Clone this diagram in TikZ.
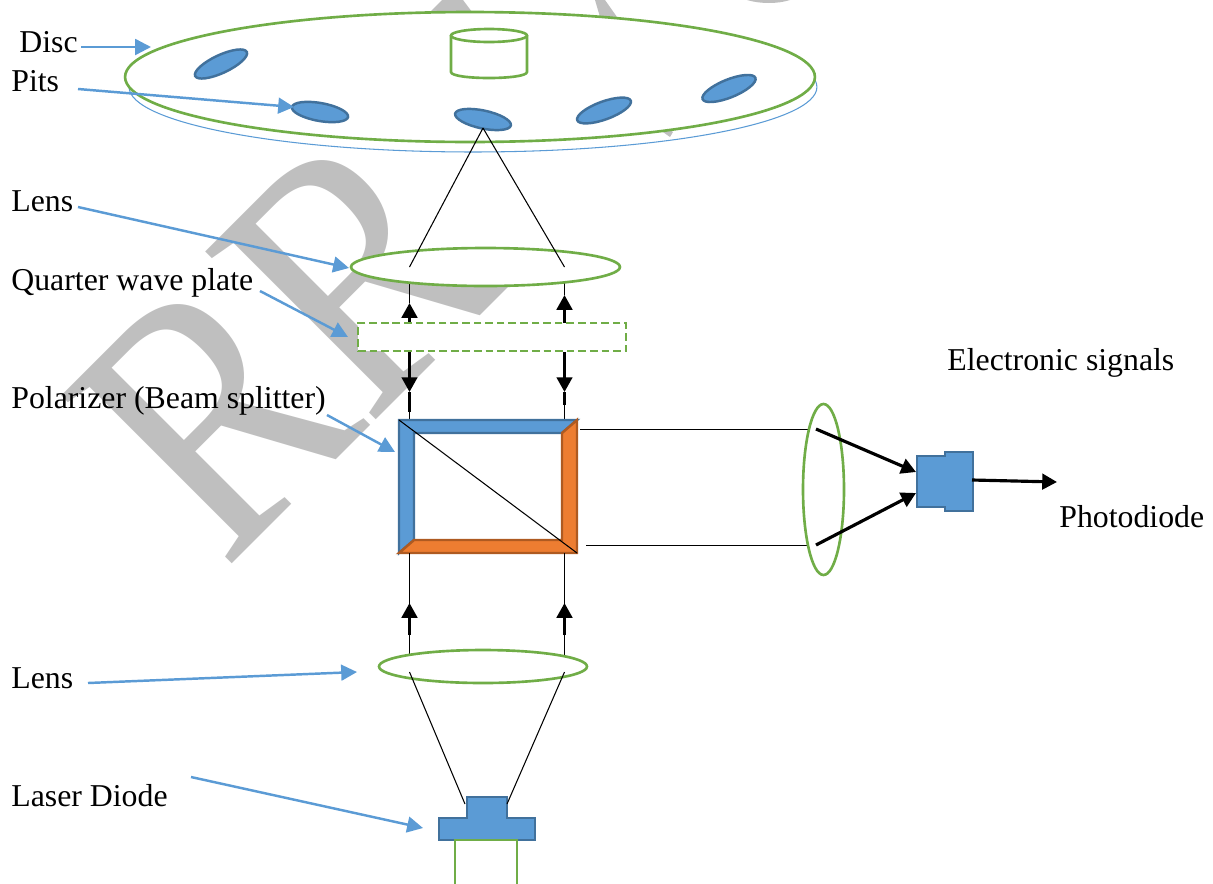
\documentclass[tikz,border=0pt]{standalone}
\usepackage{fontspec}
\usepackage{graphicx}
\setmainfont{Liberation Serif}
\usetikzlibrary{shapes.geometric,arrows.meta,positioning}

\definecolor{partgreen}{HTML}{70AD47}
\definecolor{partblue}{HTML}{5B9BD5}
\definecolor{edgeblue}{HTML}{41719C}
\definecolor{partorange}{HTML}{ED7D31}
\definecolor{edgeorange}{HTML}{AE5A21}
\definecolor{markgray}{HTML}{BFBFBF}

\tikzset{
	label text/.style={anchor=base west,inner sep=0pt,font=\fontsize{18.1}{20}\selectfont},
	mark text/.style={anchor=base west,inner sep=0pt,rotate=45,text=markgray,font=\fontsize{208}{220}\selectfont},
	lens/.style={shape=ellipse,draw=partgreen,fill=white,line width=1.5pt,inner sep=0pt},
	pit/.style={shape=ellipse,draw=edgeblue,fill=partblue,line width=1.4pt,inner sep=0pt,minimum width=1.14cm,minimum height=0.36cm},
	device/.style={draw=edgeblue,fill=partblue,line width=1.4pt},
	pointer/.style={partblue,line width=1.4pt,-{Triangle[length=9pt,width=9pt]}},
	beam/.style={black,line width=0.6pt},
	shaft/.style={black,line width=1.8pt},
	shaft tip/.style={shaft,-{Triangle[length=8.4pt,width=8.8pt]}}
}

\begin{document}
\begin{tikzpicture}[x=0.02cm,y=-0.02cm]
	\useasboundingbox (0,0) rectangle (1213,883);

	% watermark behind everything
	\node[mark text] (markA) at (224,572) {\scalebox{0.85}[1]{R}};
	\node[mark text] (markB) at (368,428) {\scalebox{0.85}[1]{R}};
	\fill[markgray] (442,0) -- (463,0) -- (472,12) -- (430,12) -- cycle;
	\fill[markgray] (595,0) -- (605,0) -- (617,17) -- (600,17) -- cycle;
	\fill[markgray] (747,0) .. controls (760,4) and (778,4) .. (790,0) -- cycle;
	\fill[markgray] (655,120) -- (673,132) -- (670,137) -- (660,130) -- cycle;

	% disc
	\node[shape=ellipse,draw=partblue,line width=0.6pt,inner sep=0pt,minimum width=13.76cm,minimum height=2.6cm] (discBack) at (473,87) {};
	\node[lens,minimum width=13.8cm,minimum height=2.6cm] (disc) at (470,77) {};
	\draw[draw=partgreen,line width=1.5pt] (451,36) -- (451,72) .. controls (451,80) and (527,80) .. (527,72) -- (527,36);
	\node[lens,minimum width=1.52cm,minimum height=0.26cm] (hub) at (489,35.5) {};
	\node[pit,rotate=25] (pit1) at (221,64) {};
	\node[pit,rotate=-10] (pit2) at (320,112) {};
	\node[pit,rotate=-12] (pit3) at (483,119.5) {};
	\node[pit,rotate=20] (pit4) at (604,110.5) {};
	\node[pit,rotate=22] (pit5) at (729,88.5) {};

	% labels
	\node[label text] (discText) at (19,52) {Disc};
	\node[label text] (pitsText) at (11,91) {Pits};
	\node[label text] (lensText) at (11,211) {Lens};
	\node[label text] (plateText) at (11,290) {Quarter wave plate};
	\node[label text] (cubeText) at (11,408) {Polarizer (Beam splitter)};
	\node[label text] (lowerText) at (11,688) {Lens};
	\node[label text] (laserText) at (11,806) {Laser Diode};
	\node[label text] (signalText) at (947,370) {Electronic signals};
	\node[label text] (diodeText) at (1059,527) {Photodiode};

	% vertical beams above and below the plate
	\coordinate (upL) at (409.5,283);
	\coordinate (upR) at (564.5,283);
	\coordinate (plateTopL) at (409.5,323);
	\coordinate (plateTopR) at (564.5,323);
	\coordinate (plateBotL) at (409.5,352);
	\coordinate (plateBotR) at (564.5,352);
	\coordinate (tipUpL) at (409.5,303);
	\coordinate (tipUpR) at (564.5,295);
	\coordinate (tipDownL) at (409.5,392);
	\coordinate (tipDownR) at (564.5,392);
	\coordinate (stubL) at (409.5,412);
	\coordinate (stubR) at (564.5,405);
	\coordinate (cubeInL) at (409.5,420);
	\coordinate (cubeInR) at (564.5,420);
	\path [beam] (upL) edge (tipUpL);
	\path [beam] (upR) edge (tipUpR);
	\path [shaft tip] (plateTopL) edge (tipUpL);
	\path [shaft tip] (plateTopR) edge (tipUpR);
	\path [shaft tip] (plateBotL) edge (tipDownL);
	\path [shaft tip] (plateBotR) edge (tipDownR);
	\path [shaft] (tipDownL) edge (stubL);
	\path [shaft] (tipDownR) edge (stubR);
	\path [beam] (stubL) edge (cubeInL);
	\path [beam] (stubR) edge (cubeInR);

	% upper lens and plate
	\node[lens,minimum width=5.38cm,minimum height=0.76cm] (lensUp) at (485.5,267) {};
	\node[draw=partgreen,fill=white,dash pattern=on 4.4pt off 2.2pt,line width=1.5pt,inner sep=0pt,minimum width=5.36cm,minimum height=0.56cm] (plate) at (492,337) {};
	\coordinate (spot) at (483,128);
	\coordinate (focusL) at (409.5,267);
	\coordinate (focusR) at (564.5,267);
	\path [beam] (spot) edge (focusL);
	\path [beam] (spot) edge (focusR);

	% beam splitter
	\coordinate (cubeNW) at (399,420);
	\coordinate (cubeNE) at (577,420);
	\coordinate (cubeSE) at (577,553);
	\coordinate (cubeSW) at (399,553);
	\draw[draw=edgeblue,fill=partblue,line width=1.4pt] (cubeNW) -- (cubeNE) -- (562,433) -- (414,433) -- (414,540) -- (cubeSW) -- cycle;
	\draw[draw=edgeorange,fill=partorange,line width=1.4pt] (cubeNE) -- (cubeSE) -- (cubeSW) -- (414,540) -- (562,540) -- (562,433) -- cycle;
	\path [beam] (cubeNW) edge (cubeSE);

	% lower beams
	\coordinate (cubeOutL) at (409.5,553);
	\coordinate (cubeOutR) at (564.5,553);
	\coordinate (lensInL) at (409.5,655);
	\coordinate (lensInR) at (564.5,655);
	\coordinate (tailL) at (409.5,635);
	\coordinate (tailR) at (564.5,635);
	\coordinate (tipL) at (409.5,603);
	\coordinate (tipR) at (564.5,603);
	\path [beam] (cubeOutL) edge (lensInL);
	\path [beam] (cubeOutR) edge (lensInR);
	\path [shaft tip] (tailL) edge (tipL);
	\path [shaft tip] (tailR) edge (tipR);
	\node[lens,minimum width=4.16cm,minimum height=0.66cm] (lensLow) at (483,666.5) {};
	\coordinate (lowL) at (409.5,672);
	\coordinate (lowR) at (564.5,672);
	\coordinate (laserL) at (465,804);
	\coordinate (laserR) at (507,804);

	% laser diode
	\draw[device] (467,797) -- (507,797) -- (507,818) -- (535,818) -- (535,840) -- (439,840) -- (439,818) -- (467,818) -- cycle;
	\draw[draw=partgreen,line width=1.5pt] (455,884) -- (455,840) -- (517,840) -- (517,884);
	\path [beam] (lowL) edge (laserL);
	\path [beam] (lowR) edge (laserR);

	% side branch
	\coordinate (sideUpA) at (580,429.5);
	\coordinate (sideUpB) at (808,429.5);
	\coordinate (sideLowA) at (586,545.5);
	\coordinate (sideLowB) at (808,545.5);
	\path [beam] (sideUpA) edge (sideUpB);
	\path [beam] (sideLowA) edge (sideLowB);
	\node[lens,minimum width=0.82cm,minimum height=3.42cm] (lensSide) at (823.5,489.5) {};
	\coordinate (rayUpA) at (816,429);
	\coordinate (rayUpB) at (916,472);
	\coordinate (rayLowA) at (816,545);
	\coordinate (rayLowB) at (916,493);
	\path [shaft tip] (rayUpA) edge (rayUpB);
	\path [shaft tip] (rayLowA) edge (rayLowB);
	\draw[device] (917,456) -- (945,456) -- (945,452) -- (973,452) -- (973,511) -- (945,511) -- (945,507) -- (917,507) -- cycle;
	\coordinate (outA) at (972,480);
	\coordinate (outB) at (1057,482);
	\path [shaft tip] (outA) edge (outB);

	% pointers from the labels
	\coordinate (discFrom) at (81,47);
	\coordinate (discTo) at (151,47);
	\coordinate (pitsFrom) at (78,89);
	\coordinate (pitsTo) at (294,107);
	\coordinate (lensFrom) at (78,207);
	\coordinate (lensTo) at (349,268);
	\coordinate (plateFrom) at (260,291);
	\coordinate (plateTo) at (348,337);
	\coordinate (cubeFrom) at (327,415);
	\coordinate (cubeTo) at (395,452);
	\coordinate (lowerFrom) at (88,683);
	\coordinate (lowerTo) at (357,672);
	\coordinate (laserFrom) at (191,777);
	\coordinate (laserTo) at (423,828);
	\path [pointer] (discFrom) edge (discTo);
	\path [pointer] (pitsFrom) edge (pitsTo);
	\path [pointer] (lensFrom) edge (lensTo);
	\path [pointer] (plateFrom) edge (plateTo);
	\path [pointer] (cubeFrom) edge (cubeTo);
	\path [pointer] (lowerFrom) edge (lowerTo);
	\path [pointer] (laserFrom) edge (laserTo);
\end{tikzpicture}
\end{document}
